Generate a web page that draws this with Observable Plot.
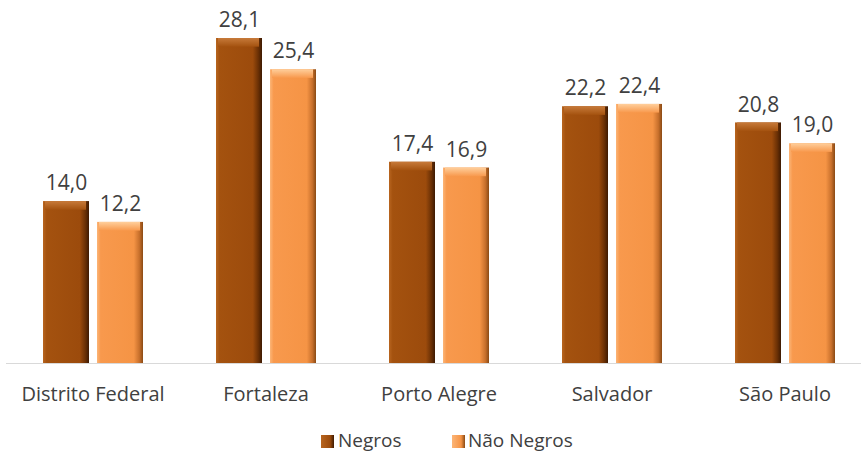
<!DOCTYPE html>
<html>
<head>
<meta charset="utf-8">
<script src="https://cdn.jsdelivr.net/npm/d3@7"></script>
<script src="https://cdn.jsdelivr.net/npm/@observablehq/plot@0.6"></script>
<style>
  body { margin: 0; background: #fff; font-family: "Open Sans", Lato, sans-serif; overflow: hidden; }
  #legend { position: relative; width: 861px; height: 27px; font-size: 19px; color: #404040; }
  #legend .sw { position: absolute; top: 10px; width: 13px; height: 13px; }
  #legend .lb { position: absolute; top: 3px; line-height: 24px; white-space: nowrap; }
</style>
</head>
<body>
<div id="chart"></div>
<div id="legend"></div>
<script>
const cities = ["Distrito Federal", "Fortaleza", "Porto Alegre", "Salvador", "São Paulo"];
const seriesNames = ["Negros", "Não Negros"];
const negros = [14.0, 28.1, 17.4, 22.2, 20.8];
const naoNegros = [12.2, 25.4, 16.9, 22.4, 19.0];

const data = [];
cities.forEach((c, i) => {
  data.push({city: c, series: seriesNames[0], value: negros[i]});
  data.push({city: c, series: seriesNames[1], value: naoNegros[i]});
});

const fmt = v => v.toFixed(1).replace(".", ",");

const defs = () => {
  const d = d3.create("svg:defs");
  const mk = (id, stops, vertical) => {
    const g = d.append("linearGradient").attr("id", id)
      .attr("x1", 0).attr("y1", 0).attr("x2", vertical ? 0 : 1).attr("y2", vertical ? 1 : 0);
    stops.forEach(([o, c]) => g.append("stop").attr("offset", o).attr("stop-color", c));
  };
  mk("gNeg", [[0, "#b8651f"], [0.08, "#a4520f"], [0.8, "#9c4b0c"], [0.92, "#6a3005"], [1, "#3e1a02"]]);
  mk("gNao", [[0, "#fcb577"], [0.08, "#f8994d"], [0.8, "#f59445"], [0.92, "#c8702c"], [1, "#8a4a14"]]);
  mk("gNegTop", [[0, "#c77a3a"], [1, "#a4520f"]], true);
  mk("gNaoTop", [[0, "#ffcf9c"], [1, "#f8994d"]], true);
  return d.node();
};

const chart = Plot.plot({
  width: 861,
  height: 425,
  marginLeft: 5,
  marginRight: 0,
  marginTop: 0,
  marginBottom: 62,
  style: {fontFamily: "'Open Sans', Lato, sans-serif", background: "#fff"},
  fx: {domain: cities, range: [5, 872], padding: 0, label: null},
  x: {domain: seriesNames, paddingInner: 0.15, paddingOuter: 0.65, axis: null},
  y: {domain: [0, 28.1], range: [363, 38], axis: null},
  marks: [
    defs,
    Plot.ruleY([0], {stroke: "#d9d9d9", strokeWidth: 1}),
    Plot.barY(data.filter(d => d.series === "Negros"), {fx: "city", x: "series", y: "value", fill: "url(#gNeg)"}),
    Plot.barY(data.filter(d => d.series !== "Negros"), {fx: "city", x: "series", y: "value", fill: "url(#gNao)"}),
    Plot.barY(data.filter(d => d.series === "Negros"), {fx: "city", x: "series", y1: d => d.value - 0.75, y2: "value", fill: "url(#gNegTop)", insetLeft: 2, insetRight: 3}),
    Plot.barY(data.filter(d => d.series !== "Negros"), {fx: "city", x: "series", y1: d => d.value - 0.75, y2: "value", fill: "url(#gNaoTop)", insetLeft: 2, insetRight: 3}),
    Plot.text(data, {fx: "city", x: "series", y: "value", text: d => fmt(d.value), dy: -18, fontSize: 21, fill: "#404040"}),
    Plot.axisFx({anchor: "bottom", tickSize: 0, tickPadding: 23, fontSize: 20, color: "#404040", label: null})
  ]
});
document.getElementById("chart").appendChild(chart);

const legend = document.getElementById("legend");
const items = [
  {name: seriesNames[0], sw: 321, lb: 338, fill: "linear-gradient(90deg,#b8651f,#9c4b0c 70%,#3e1a02)"},
  {name: seriesNames[1], sw: 452, lb: 468, fill: "linear-gradient(90deg,#fcb577,#f59445 70%,#8a4a14)"}
];
items.forEach(it => {
  const s = document.createElement("div");
  s.className = "sw"; s.style.left = it.sw + "px"; s.style.background = it.fill;
  const l = document.createElement("div");
  l.className = "lb"; l.style.left = it.lb + "px"; l.textContent = it.name;
  legend.appendChild(s); legend.appendChild(l);
});
</script>
</body>
</html>
